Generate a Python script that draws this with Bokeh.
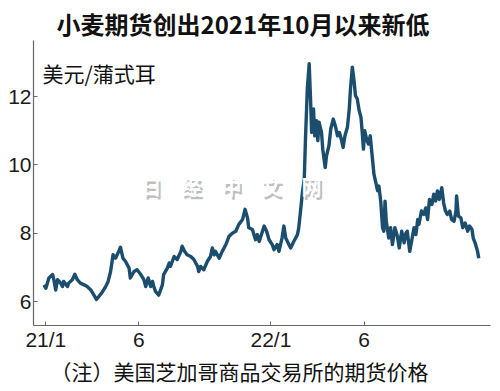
from datetime import datetime
from bokeh.plotting import figure
from bokeh.models import Range1d, FixedTicker, Label, Title
from bokeh.embed import file_html
from bokeh.resources import INLINE

title_text = "小麦期货创出2021年10月以来新低"
unit_text = "美元/蒲式耳"
note_text = "（注）美国芝加哥商品交易所的期货价格"
watermark_text = "日　经　中　文　网"

x_tick_dates = ["2021-01-01", "2021-06-01", "2022-01-01", "2022-06-01"]
x_tick_labels = ["21/1", "6", "22/1", "6"]
y_ticks = [6, 8, 10, 12]

dates = [
    "2020-12-29", "2021-01-01", "2021-01-06", "2021-01-12", "2021-01-14", "2021-01-17", "2021-01-20",
    "2021-01-25", "2021-01-28", "2021-01-30", "2021-02-05", "2021-02-07", "2021-02-13", "2021-02-17",
    "2021-02-21", "2021-02-26", "2021-03-04", "2021-03-09", "2021-03-15", "2021-03-20", "2021-03-24",
    "2021-03-28", "2021-04-03", "2021-04-08", "2021-04-12", "2021-04-16", "2021-04-20", "2021-04-24",
    "2021-04-28", "2021-05-02", "2021-05-06", "2021-05-10", "2021-05-16", "2021-05-18", "2021-05-24",
    "2021-05-29", "2021-06-04", "2021-06-09", "2021-06-12", "2021-06-16", "2021-06-20", "2021-06-23",
    "2021-06-25", "2021-06-28", "2021-07-03", "2021-07-09", "2021-07-11", "2021-07-17", "2021-07-20",
    "2021-07-22", "2021-07-28", "2021-08-02", "2021-08-08", "2021-08-10", "2021-08-14", "2021-08-18",
    "2021-08-24", "2021-08-29", "2021-09-04", "2021-09-06", "2021-09-09", "2021-09-14", "2021-09-20",
    "2021-09-25", "2021-09-28", "2021-10-01", "2021-10-03", "2021-10-09", "2021-10-14", "2021-10-20",
    "2021-10-25", "2021-10-31", "2021-11-05", "2021-11-10", "2021-11-16", "2021-11-20", "2021-11-24",
    "2021-11-26", "2021-12-02", "2021-12-07", "2021-12-10", "2021-12-13", "2021-12-21", "2021-12-25",
    "2021-12-29", "2022-01-03", "2022-01-06", "2022-01-11", "2022-01-14", "2022-01-19", "2022-01-22",
    "2022-01-25", "2022-01-30", "2022-02-02", "2022-02-07", "2022-02-13", "2022-02-15", "2022-02-18",
    "2022-02-21", "2022-02-24", "2022-02-26", "2022-03-01", "2022-03-04", "2022-03-06", "2022-03-08",
    "2022-03-11", "2022-03-13", "2022-03-16", "2022-03-18", "2022-03-20", "2022-03-24", "2022-03-26",
    "2022-03-30", "2022-04-01", "2022-04-05", "2022-04-08", "2022-04-12", "2022-04-16", "2022-04-19",
    "2022-04-22", "2022-04-25", "2022-04-28", "2022-05-01", "2022-05-05", "2022-05-08", "2022-05-10",
    "2022-05-13", "2022-05-16", "2022-05-18", "2022-05-21", "2022-05-24", "2022-05-27", "2022-05-29",
    "2022-05-31", "2022-06-02", "2022-06-05", "2022-06-08", "2022-06-11", "2022-06-15", "2022-06-17",
    "2022-06-23", "2022-06-25", "2022-06-28", "2022-07-01", "2022-07-03", "2022-07-05", "2022-07-07",
    "2022-07-11", "2022-07-14", "2022-07-17", "2022-07-21", "2022-07-25", "2022-07-28", "2022-08-01",
    "2022-08-05", "2022-08-08", "2022-08-10", "2022-08-14", "2022-08-19", "2022-08-21", "2022-08-24",
    "2022-08-27", "2022-08-29", "2022-09-02", "2022-09-06", "2022-09-09", "2022-09-12", "2022-09-15",
    "2022-09-19", "2022-09-22", "2022-09-25", "2022-09-28", "2022-10-01", "2022-10-05", "2022-10-08",
    "2022-10-11", "2022-10-14", "2022-10-18", "2022-10-21", "2022-10-25", "2022-10-28", "2022-10-29",
    "2022-11-01", "2022-11-05", "2022-11-08", "2022-11-12", "2022-11-16", "2022-11-19", "2022-11-23",
    "2022-11-25", "2022-11-28", "2022-12-02", "2022-12-04",
]
prices = [
    6.49, 6.39, 6.69, 6.79, 6.64, 6.34, 6.64,
    6.54, 6.44, 6.59, 6.44, 6.54, 6.64, 6.80,
    6.64, 6.54, 6.49, 6.44, 6.34, 6.19, 6.06,
    6.15, 6.29, 6.44, 6.59, 6.88, 7.37, 7.27,
    7.42, 7.59, 7.27, 7.18, 6.98, 6.69, 6.88,
    6.93, 6.79, 6.64, 6.44, 6.69, 6.44, 6.59,
    6.44, 6.29, 6.19, 6.49, 6.79, 6.98, 7.13,
    7.03, 7.32, 7.23, 7.47, 7.62, 7.47, 7.37,
    7.32, 7.23, 7.03, 6.88, 7.03, 6.93, 7.18,
    7.32, 7.57, 7.37, 7.47, 7.27, 7.47, 7.67,
    7.91, 8.01, 8.06, 8.26, 8.40, 8.70, 8.45,
    8.16, 8.11, 7.81, 7.96, 7.76, 8.21, 8.06,
    7.81, 7.67, 7.52, 7.67, 7.47, 7.86, 8.21,
    7.86, 7.67, 7.57, 7.76, 7.96, 8.15, 8.65,
    9.19, 9.58, 10.76, 12.23, 12.96, 12.03, 10.95,
    11.64, 10.85, 11.29, 10.71, 11.25, 10.95, 10.46,
    9.92, 10.26, 10.56, 11.05, 11.34, 11.10, 10.85,
    10.95, 10.76, 10.51, 10.85, 11.10, 11.64, 12.23,
    12.86, 12.42, 12.03, 11.93, 11.59, 11.39, 10.95,
    10.46, 11.00, 10.76, 10.61, 10.85, 10.10, 9.73,
    9.24, 9.38, 8.94, 8.16, 8.06, 8.94, 8.35,
    7.86, 8.16, 7.67, 8.16, 7.91, 7.57, 8.06,
    7.72, 8.01, 8.06, 7.47, 7.96, 8.16, 7.96,
    8.40, 8.26, 8.65, 8.55, 8.74, 8.40, 8.99,
    8.84, 9.14, 8.94, 9.24, 8.99, 9.33, 8.89,
    8.65, 8.55, 8.65, 8.40, 8.35, 8.65, 9.09,
    8.50, 8.45, 8.16, 8.30, 8.06, 8.21, 8.11,
    7.86, 7.72, 7.47, 7.27,
]

x = [datetime.strptime(d, "%Y-%m-%d") for d in dates]


def ms(d):
    return (datetime.strptime(d, "%Y-%m-%d") - datetime(1970, 1, 1)).total_seconds() * 1000.0


cjk = "Noto Sans CJK SC"
tick_font = "Liberation Sans"

p = figure(
    width=492, height=388,
    min_border_left=33, min_border_right=2, min_border_top=40, min_border_bottom=63,
    x_range=Range1d(ms("2020-12-12"), ms("2022-12-23")),
    y_range=Range1d(5.30, 13.64),
    output_backend="svg", toolbar_location=None,
    background_fill_color="white", border_fill_color="white",
)
p.outline_line_color = None
p.xgrid.visible = False
p.ygrid.visible = False

# title (above)
p.title.text = title_text
p.title.text_font = cjk
p.title.text_font_size = "24px"
p.title.text_font_style = "bold"
p.title.text_color = "#111111"
p.title.align = "left"
p.title.offset = 23
p.title.standoff = 0

p.line(x, prices, line_width=3.4, line_color="#1a4d6e", line_join="round")

for ax in (p.xaxis[0], p.yaxis[0]):
    ax.axis_line_color = "#666666"
    ax.axis_line_width = 1.2
    ax.major_tick_line_color = "#666666"
    ax.major_tick_in = 4
    ax.major_tick_out = 0
    ax.minor_tick_line_color = None
    ax.major_label_text_font = tick_font
    ax.major_label_text_font_size = "21px"
    ax.major_label_text_color = "#1a1a1a"

p.xaxis[0].ticker = FixedTicker(ticks=[ms(d) for d in x_tick_dates])
p.xaxis[0].major_label_overrides = {ms(d): lab for d, lab in zip(x_tick_dates, x_tick_labels)}
p.xaxis[0].major_label_standoff = 2
p.yaxis[0].ticker = FixedTicker(ticks=y_ticks)
p.yaxis[0].major_label_standoff = 2

# footnote (below the x axis)
note = Title(text=note_text, text_font=cjk, text_font_size="21px", text_font_style="normal",
             text_color="#111111", align="left", offset=17, standoff=0)
p.add_layout(note, "below")

p.add_layout(Label(x=9, y=268, x_units="screen", y_units="screen", text=unit_text,
                   text_font=cjk, text_font_size="21px", text_color="#111111",
                   text_baseline="top", text_align="left"))
# watermark: gray shadow then white text
p.add_layout(Label(x=110, y=136, x_units="screen", y_units="screen", text=watermark_text,
                   text_font=cjk, text_font_size="20px", text_font_style="bold",
                   text_color="#888888", text_alpha=0.55,
                   text_baseline="middle", text_align="left"))
p.add_layout(Label(x=108, y=139, x_units="screen", y_units="screen", text=watermark_text,
                   text_font=cjk, text_font_size="20px", text_font_style="bold",
                   text_color="white",
                   text_baseline="middle", text_align="left"))

open("out.html", "w").write(file_html(p, INLINE))
